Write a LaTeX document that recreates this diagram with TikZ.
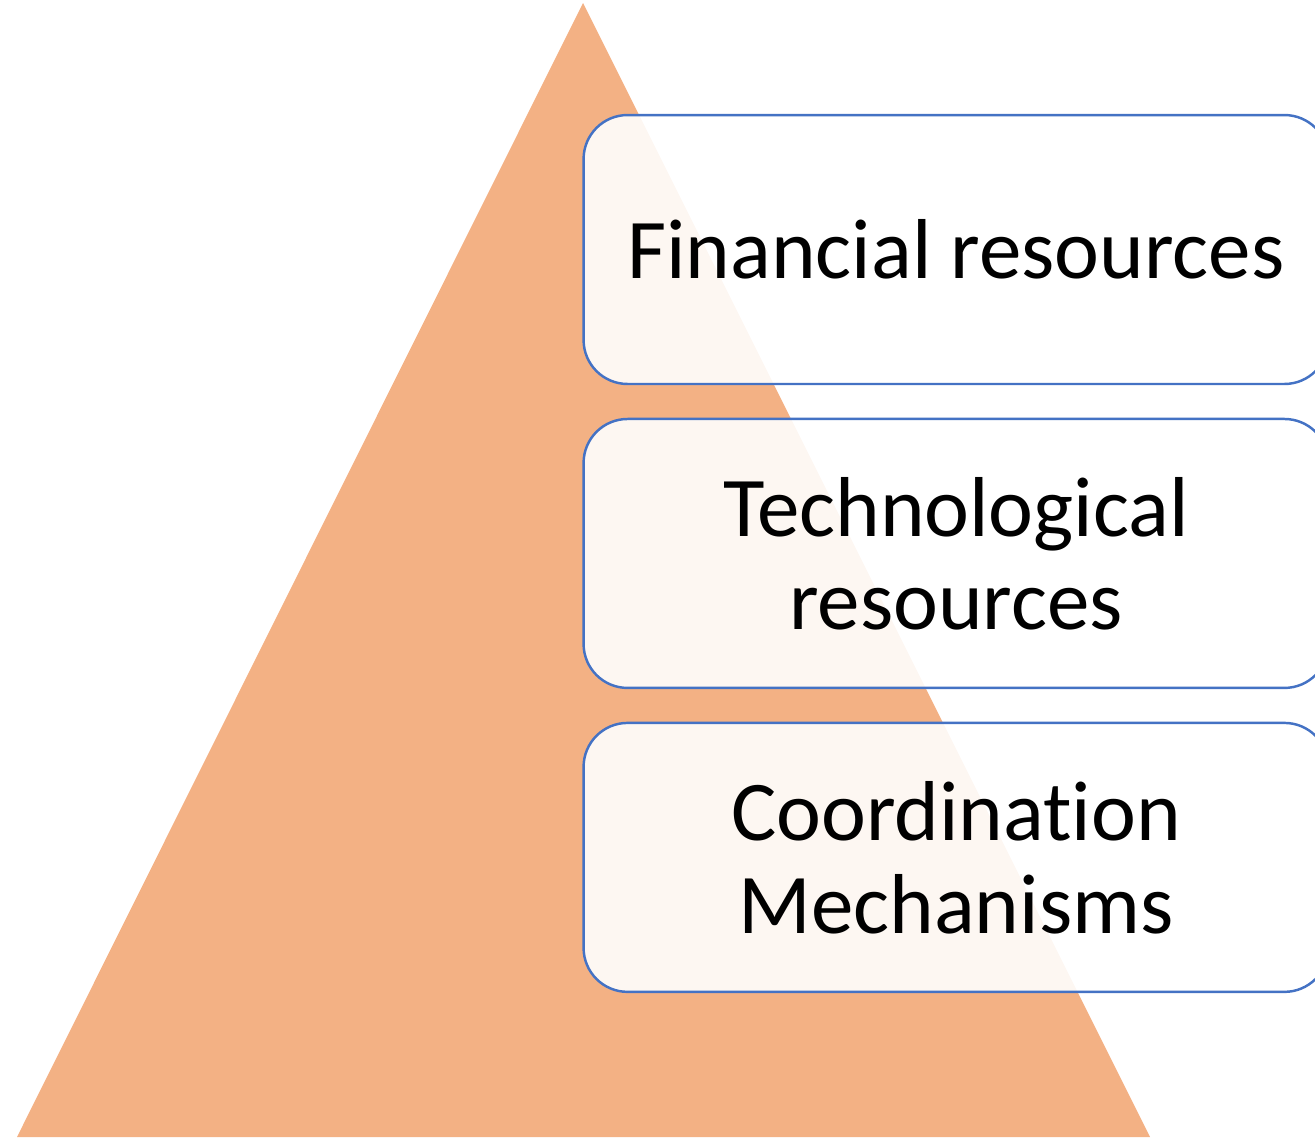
\documentclass[tikz,border=0pt]{standalone}
\usepackage{fontspec}
\setmainfont[Ligatures=NoCommon]{Carlito}
\usetikzlibrary{positioning}
\definecolor{pyrorange}{HTML}{F3B184}
\definecolor{boxblue}{HTML}{4472C4}
\definecolor{boxcream}{HTML}{FFFFFF}
\newcommand\boxwd{14.9cm}
\newcommand\boxht{5.38cm}
\begin{document}
\begin{tikzpicture}[
    x=0.02cm, y=-0.02cm,
    pyramid/.style={fill=pyrorange,draw=none},
    levelbox/.style={draw=boxblue,line width=1.4pt,fill=boxcream,fill opacity=0.9,
      text opacity=1,rounded corners=0.88cm,minimum width=\boxwd,minimum height=\boxht,
      align=center,font=\fontsize{48.4}{53}\selectfont,inner sep=0pt,outer sep=0pt}
  ]
    \useasboundingbox (0,0) rectangle (1315,1137);
    \clip (0,0) rectangle (1315,1137);

    % pyramid
    \coordinate (top) at (583,3);
    \coordinate (left) at (17,1137);
    \coordinate (right) at (1150,1137);
    \fill[pyramid] (top) -- (right) -- (left) -- cycle;

    % levels
    \node[levelbox] (fin) at (956,249.5) {Financial resources};
    \node[levelbox,below=0.7cm of fin] (tech) {Technological\\resources};
    \node[levelbox,below=0.7cm of tech] (coord) {Coordination\\Mechanisms};
  \end{tikzpicture}
\end{document}
